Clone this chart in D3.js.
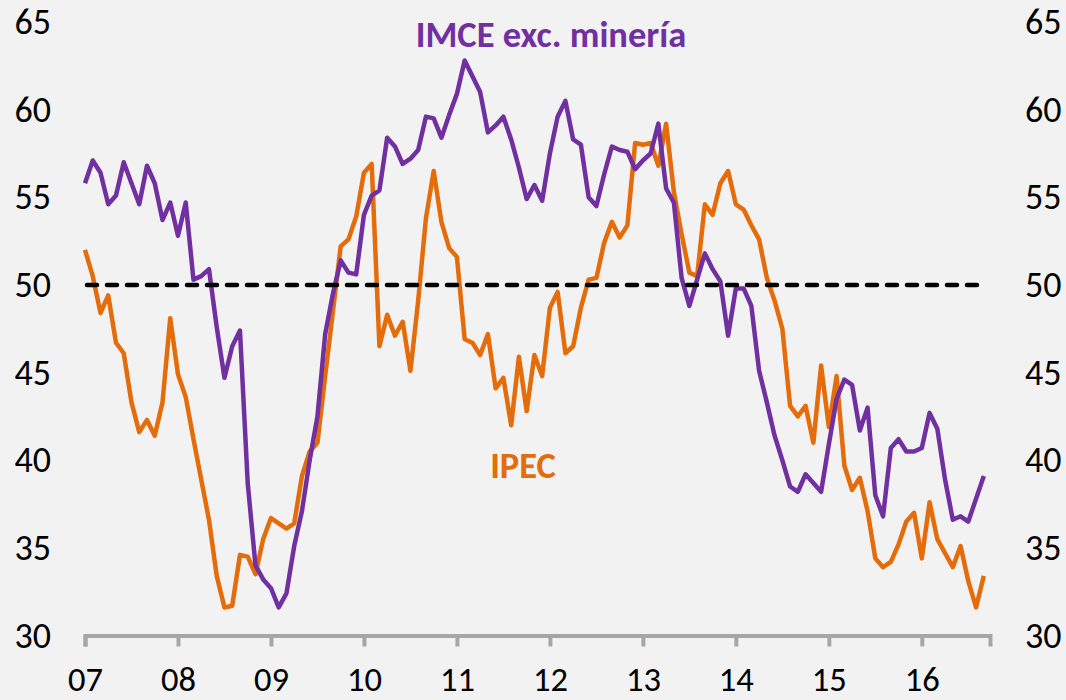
<!DOCTYPE html>
<html>
<head>
<meta charset="utf-8">
<script src="https://cdn.jsdelivr.net/npm/d3@7"></script>
<style>
  html, body { margin: 0; padding: 0; background: #f2f2f2; }
  svg { display: block; }
  text { font-family: Carlito, Calibri, "Open Sans", sans-serif; }
</style>
</head>
<body>
<svg id="chart"></svg>
<script>
// Monthly readings, Jan 2007 .. Sep 2016
const imce = [
  55.8, 57.1, 56.4, 54.6, 55.1, 57.0, 55.8, 54.6, 56.8, 55.8, 53.7, 54.7,
  52.8, 54.7, 50.3, 50.5, 50.9, 47.6, 44.7, 46.5, 47.4, 38.7, 34.0, 33.2,
  32.7, 31.6, 32.4, 35.1, 37.1, 40.0, 42.5, 47.2, 49.5, 51.4, 50.7, 50.6,
  54.0, 55.1, 55.4, 58.4, 57.9, 56.9, 57.2, 57.7, 59.6, 59.5, 58.4, 59.7,
  60.9, 62.8, 61.9, 61.0, 58.7, 59.1, 59.6, 58.3, 56.7, 54.9, 55.7, 54.8,
  57.5, 59.6, 60.5, 58.3, 58.0, 55.0, 54.5, 56.3, 57.9, 57.7, 57.6, 56.6,
  57.1, 57.5, 59.2, 55.5, 54.7, 50.4, 48.8, 50.3, 51.8, 50.9, 50.2, 47.1,
  49.8, 49.8, 48.8, 45.1, 43.3, 41.4, 40.0, 38.5, 38.2, 39.2, 38.7, 38.2,
  40.9, 43.5, 44.6, 44.3, 41.7, 43.0, 38.0, 36.8, 40.7, 41.2, 40.5, 40.5,
  40.7, 42.7, 41.8, 38.9, 36.6, 36.8, 36.5, 37.8, 39.1
];

const ipec = [
  52.0, 50.5, 48.4, 49.4, 46.7, 46.1, 43.3, 41.6, 42.3, 41.4, 43.3, 48.1,
  44.9, 43.6, 41.2, 38.9, 36.6, 33.4, 31.6, 31.7, 34.6, 34.5, 33.5, 35.5,
  36.7, 36.4, 36.1, 36.4, 39.1, 40.5, 41.0, 44.8, 48.5, 52.2, 52.6, 53.9,
  56.4, 56.9, 46.5, 48.3, 47.1, 47.9, 45.1, 49.1, 53.8, 56.5, 53.6, 52.1,
  51.6, 46.9, 46.7, 46.0, 47.2, 44.1, 44.7, 42.0, 45.9, 42.8, 46.0, 44.8,
  48.7, 49.6, 46.1, 46.5, 48.7, 50.3, 50.4, 52.4, 53.6, 52.7, 53.4, 58.1,
  58.0, 58.1, 56.8, 59.2, 55.3, 52.9, 50.7, 50.5, 54.6, 54.0, 55.8, 56.5,
  54.6, 54.3, 53.4, 52.6, 50.4, 49.1, 47.5, 43.1, 42.5, 43.1, 41.0, 45.4,
  41.9, 44.8, 39.7, 38.3, 39.0, 37.1, 34.4, 33.9, 34.2, 35.2, 36.5, 37.0,
  34.4, 37.6, 35.5, 34.7, 33.9, 35.1, 33.1, 31.6, 33.4
];

const yearLabels = ['07', '08', '09', '10', '11', '12', '13', '14', '15', '16'];
const yTicks = [30, 35, 40, 45, 50, 55, 60, 65];
const threshold = 50;

const W = 1066, H = 700;
const svg = d3.select('#chart').attr('width', W).attr('height', H);

svg.append('rect').attr('width', W).attr('height', H).attr('fill', '#f2f2f2');

// scales
const x = d3.scaleLinear().domain([0, 116.8]).range([85, 990]);
const y = d3.scaleLinear().domain([30, 65]).range([635.5, 22]);

// left / right value labels
const yLeft = svg.append('g')
  .attr('transform', 'translate(51,0)')
  .call(d3.axisLeft(y).tickValues(yTicks).tickSize(0).tickPadding(0));
const yRight = svg.append('g')
  .attr('transform', 'translate(1025,0)')
  .call(d3.axisRight(y).tickValues(yTicks).tickSize(0).tickPadding(0));

[yLeft, yRight].forEach(g => {
  g.select('.domain').remove();
  g.selectAll('text')
    .attr('font-family', null)
    .attr('font-size', 36)
    .attr('fill', '#000')
    .attr('dy', '0.32em');
});

// x axis
const xAxis = svg.append('g')
  .attr('transform', `translate(0,${y(30)})`)
  .call(d3.axisBottom(x)
    .tickValues(yearLabels.map((d, i) => i * 12))
    .tickFormat((d, i) => yearLabels[i])
    .tickSizeOuter(0)
    .tickSize(11));

xAxis.select('.domain')
  .attr('stroke', '#a6a6a6')
  .attr('stroke-width', 4);
xAxis.selectAll('.tick line')
  .attr('stroke', '#a6a6a6')
  .attr('stroke-width', 4);
// kept a touch high so the glyph box stays inside the 700px frame
xAxis.selectAll('.tick text')
  .attr('font-family', null)
  .attr('font-size', 34.5)
  .attr('fill', '#000')
  .attr('y', 44)
  .attr('dy', '0.32em');

// series
const line = d3.line()
  .x((d, i) => x(i))
  .y(d => y(d));

svg.append('path')
  .datum(ipec)
  .attr('fill', 'none')
  .attr('stroke', '#e46c0a')
  .attr('stroke-width', 4.5)
  .attr('stroke-linejoin', 'round')
  .attr('d', line);

svg.append('path')
  .datum(imce)
  .attr('fill', 'none')
  .attr('stroke', '#7030a0')
  .attr('stroke-width', 4.5)
  .attr('stroke-linejoin', 'round')
  .attr('d', line);

// 50 reference line
svg.append('line')
  .attr('x1', x(0) + 2)
  .attr('x2', x(116.3))
  .attr('y1', y(threshold))
  .attr('y2', y(threshold))
  .attr('stroke', '#000')
  .attr('stroke-width', 4.5)
  .attr('stroke-linecap', 'round')
  .attr('stroke-dasharray', '10,10');

// series labels
svg.append('text')
  .attr('x', 551)
  .attr('y', 47)
  .attr('text-anchor', 'middle')
  .attr('font-size', 36.5)
  .attr('font-weight', 'bold')
  .attr('fill', '#7030a0')
  .text('IMCE exc. minería');

svg.append('text')
  .attr('x', 523)
  .attr('y', 478)
  .attr('text-anchor', 'middle')
  .attr('font-size', 36.5)
  .attr('font-weight', 'bold')
  .attr('fill', '#e46c0a')
  .text('IPEC');
</script>
</body>
</html>
